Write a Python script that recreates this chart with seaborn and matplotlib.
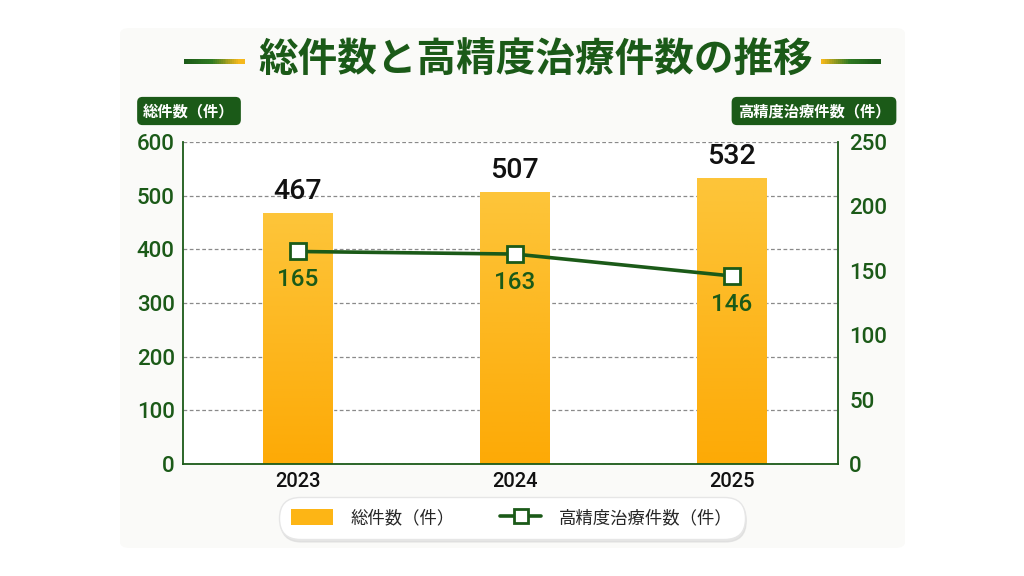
import numpy as np
import pandas as pd
import seaborn as sns
import matplotlib.pyplot as plt
from matplotlib.patches import Patch, FancyBboxPatch
from matplotlib.lines import Line2D
from matplotlib.collections import LineCollection
from matplotlib.colors import LinearSegmentedColormap

# chart data
years = ['2023', '2024', '2025']
total_cases = [467, 507, 532]
precise_cases = [165, 163, 146]
title = '総件数と高精度治療件数の推移'
left_label = '総件数（件）'
right_label = '高精度治療件数（件）'

df = pd.DataFrame({'year': years, 'total': total_cases, 'precise': precise_cases})

GREEN = '#1b5a18'
JP = ['Noto Sans CJK JP', 'DejaVu Sans']
NUM = ['Roboto', 'DejaVu Sans']

sns.set_style('white')
plt.rcParams['font.family'] = JP

fig = plt.figure(figsize=(10.24, 5.76), dpi=100, facecolor='white')

# faint card behind everything
card = FancyBboxPatch((120 / 1024, 1 - 548 / 576), 785 / 1024, 520 / 576,
                      boxstyle='round,pad=0,rounding_size=0.01', transform=fig.transFigure,
                      facecolor='#fafaf8', edgecolor='none', zorder=-5)
fig.patches.append(card)

ax = fig.add_axes([183 / 1024, 1 - 464 / 576, 655 / 1024, 322 / 576])
ax.set_facecolor('white')

sns.barplot(data=df, x='year', y='total', color='#fdb515', width=0.32, ax=ax, zorder=2)

# vertical gradient on the bars
grad = LinearSegmentedColormap.from_list('bar', ['#fdaa06', '#fdc53a'])
for p in ax.patches:
    x0, y0 = p.get_x(), p.get_y()
    w, h = p.get_width(), p.get_height()
    im = ax.imshow(np.linspace(0, 1, 100).reshape(-1, 1), cmap=grad, aspect='auto',
                   origin='lower', extent=[x0, x0 + w, y0, y0 + h], zorder=2.5)
    im.set_clip_path(p)

ax.set_xlim(-0.53, 2.49)
ax.set_ylim(0, 600)
ax.set_yticks(range(0, 601, 100))
ax.yaxis.grid(True, linestyle=(0, (3, 2)), color='#8a8a8a', linewidth=0.9)
ax.set_axisbelow(True)
ax.set_xlabel('')
ax.set_ylabel('')
for s in ['top', 'right']:
    ax.spines[s].set_visible(False)
for s in ['left', 'bottom']:
    ax.spines[s].set_color(GREEN)
    ax.spines[s].set_linewidth(1.3)
ax.tick_params(axis='y', length=0, pad=6, labelsize=16, labelcolor=GREEN)
ax.tick_params(axis='x', length=0, pad=6, labelsize=14.5, labelcolor='#111111')
for t in ax.get_yticklabels():
    t.set_family(NUM)
    t.set_fontweight('medium')
for t in ax.get_xticklabels():
    t.set_family(NUM)
    t.set_fontweight('medium')

for i, v in enumerate(df['total']):
    ax.annotate(str(v), (i, v), xytext=(0, 6), textcoords='offset points',
                ha='center', va='bottom', fontsize=20.5, family=NUM, fontweight='medium',
                color='#111111')

ax2 = ax.twinx()
sns.lineplot(x=np.arange(len(df)), y=df['precise'], ax=ax2, color=GREEN, linewidth=2.6,
             marker='s', markersize=11, markerfacecolor='white', markeredgecolor=GREEN,
             markeredgewidth=2, zorder=5)
ax2.set_ylim(0, 250)
ax2.set_yticks(range(0, 251, 50))
ax2.set_ylabel('')
for s in ['top', 'left', 'bottom']:
    ax2.spines[s].set_visible(False)
ax2.spines['right'].set_color(GREEN)
ax2.spines['right'].set_linewidth(1.3)
ax2.tick_params(axis='y', length=0, pad=8, labelsize=16, labelcolor=GREEN)
for t in ax2.get_yticklabels():
    t.set_family(NUM)
    t.set_fontweight('medium')

for i, v in enumerate(df['precise']):
    ax2.annotate(str(v), (i, v), xytext=(0, -12), textcoords='offset points',
                 ha='center', va='top', fontsize=17.5, family=NUM, fontweight='medium',
                 color=GREEN)

# title with gradient rules on both sides
fig.text(536 / 1024, 1 - 60 / 576, title, ha='center', va='center', fontsize=28.5,
         fontweight='bold', color=GREEN)


def rule(x0, x1, y, colors):
    xs = np.linspace(x0, x1, 30) / 1024
    ys = np.full_like(xs, 1 - y / 576)
    segs = np.stack([np.column_stack([xs[:-1], ys[:-1]]), np.column_stack([xs[1:], ys[1:]])], axis=1)
    cm = LinearSegmentedColormap.from_list('r', colors)
    lc = LineCollection(segs, colors=cm(np.linspace(0, 1, len(segs))), linewidth=2.2,
                        transform=fig.transFigure, capstyle='projecting', antialiased=False)
    fig.add_artist(lc)


rule(186, 242, 61, [GREEN, '#2f7a22', '#f5b81c'])
rule(823, 878, 61, ['#f5b81c', '#2f7a22', GREEN])

# axis title badges
fig.text(189 / 1024, 1 - 111 / 576, left_label, ha='center', va='center', fontsize=11,
         fontweight='bold', color='white',
         bbox=dict(boxstyle='round,pad=0.4,rounding_size=0.35', facecolor=GREEN, edgecolor='none'))
fig.text(814 / 1024, 1 - 111 / 576, right_label, ha='center', va='center', fontsize=11,
         fontweight='bold', color='white',
         bbox=dict(boxstyle='round,pad=0.4,rounding_size=0.35', facecolor=GREEN, edgecolor='none'))

# legend
handles = [Patch(facecolor='#fdb515', edgecolor='none'),
           Line2D([0], [0], color=GREEN, linewidth=2.6, marker='s', markersize=10,
                  markerfacecolor='white', markeredgecolor=GREEN, markeredgewidth=2)]
leg = fig.legend(handles, [left_label, right_label], loc='center', ncol=2,
                 bbox_to_anchor=(512 / 1024, 1 - 518 / 576), fontsize=12.5, frameon=True,
                 fancybox=True, shadow={'color': '#d8d8d8', 'alpha': 0.6, 'ox': 1, 'oy': -2},
                 handlelength=2.4, handleheight=1.0,
                 columnspacing=2.6, borderpad=0.7, borderaxespad=0, handletextpad=1.0)
frame = leg.get_frame()
frame.set_facecolor('white')
frame.set_edgecolor('#e6e6e6')
frame.set_boxstyle('round,pad=0,rounding_size=1.2')

fig.savefig('out.png', dpi=100, facecolor=fig.get_facecolor())
